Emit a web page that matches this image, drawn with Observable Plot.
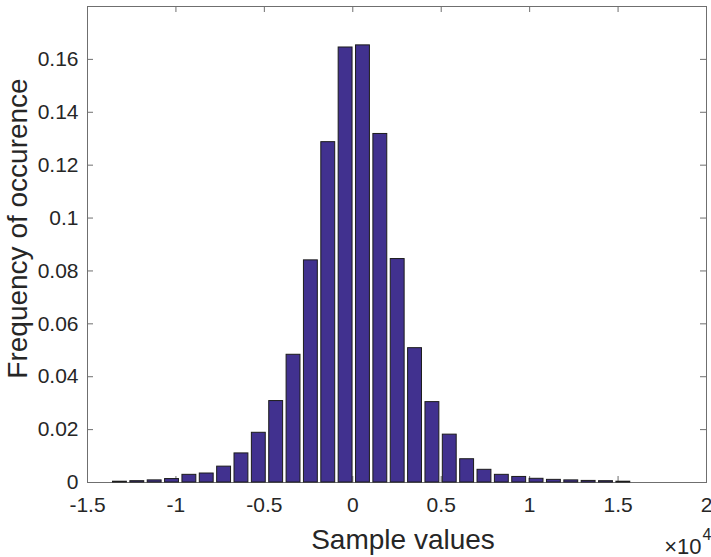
<!DOCTYPE html>
<html>
<head>
<meta charset="utf-8">
<script src="https://cdn.jsdelivr.net/npm/d3@7"></script>
<script src="https://cdn.jsdelivr.net/npm/@observablehq/plot@0.6"></script>
<style>
  html, body { margin: 0; padding: 0; background: #ffffff; }
  #chart { width: 711px; height: 557px; }
</style>
</head>
<body>
<div id="chart"></div>
<script>
// Histogram bin centres (sample values) and bar heights (frequency of occurence)
const binCenters = [
  -13165, -12184, -11202, -10221, -9239, -8258, -7276, -6295, -5313, -4332,
  -3350, -2369, -1387, -406, 576, 1557, 2539, 3520, 4502, 5483,
  6465, 7446, 8428, 9409, 10391, 11372, 12354, 13335, 14317, 15298
];
const frequencies = [
  0.0003, 0.0005, 0.0008, 0.0013, 0.0029, 0.0034, 0.0060, 0.0110, 0.0188, 0.0308,
  0.0483, 0.0840, 0.1287, 0.1645, 0.1653, 0.1318, 0.0845, 0.0508, 0.0304, 0.0181,
  0.0088, 0.0048, 0.0029, 0.0021, 0.0014, 0.0010, 0.0008, 0.0006, 0.0005, 0.0003
];
const binWidth = 981.5;
const xTicks = [-15000, -10000, -5000, 0, 5000, 10000, 15000, 20000];
const xTickLabels = ["-1.5", "-1", "-0.5", "0", "0.5", "1", "1.5", "2"];
const yTicks = [0, 0.02, 0.04, 0.06, 0.08, 0.10, 0.12, 0.14, 0.16];
const yTickLabels = ["0", "0.02", "0.04", "0.06", "0.08", "0.1", "0.12", "0.14", "0.16"];
const xDomain = [-15000, 20000];
const yDomain = [0, 0.18];

const bars = binCenters.map((c, i) => ({center: c, freq: frequencies[i]}));
const xLabelMap = new Map(xTicks.map((t, i) => [t, xTickLabels[i]]));
const yLabelMap = new Map(yTicks.map((t, i) => [t, yTickLabels[i]]));

const W = 711, H = 557;
const mL = 87, mR = 5, mT = 6, mB = 75;
const plotW = W - mL - mR, plotH = H - mT - mB;
const tickPx = 6;
const tickX = tickPx * (xDomain[1] - xDomain[0]) / plotW;
const tickY = tickPx * (yDomain[1] - yDomain[0]) / plotH;
const barFrac = 0.8;
const axisColor = "#6f6f6f";
const font = "'Liberation Sans', Arial, Helvetica, sans-serif";

const chart = Plot.plot({
  width: W,
  height: H,
  marginLeft: mL,
  marginRight: mR,
  marginTop: mT,
  marginBottom: mB,
  x: {domain: xDomain},
  y: {domain: yDomain},
  style: {fontFamily: font, fontSize: "21px", color: "#262626", background: "#ffffff", overflow: "visible"},
  marks: [
    Plot.frame({stroke: axisColor, strokeWidth: 1}),
    Plot.ruleX(xTicks, {x: d => d, y1: () => yDomain[0], y2: () => yDomain[0] + tickY, stroke: axisColor}),
    Plot.ruleX(xTicks, {x: d => d, y1: () => yDomain[1], y2: () => yDomain[1] - tickY, stroke: axisColor}),
    Plot.ruleY(yTicks, {y: d => d, x1: () => xDomain[0], x2: () => xDomain[0] + tickX, stroke: axisColor}),
    Plot.ruleY(yTicks, {y: d => d, x1: () => xDomain[1], x2: () => xDomain[1] - tickX, stroke: axisColor}),
    Plot.rect(bars, {
      x1: d => d.center - barFrac * binWidth / 2,
      x2: d => d.center + barFrac * binWidth / 2,
      y1: () => 0,
      y2: d => d.freq,
      fill: "#41318f",
      stroke: "#1c1c1c",
      strokeWidth: 1
    }),
    Plot.axisX(xTicks, {tickSize: 0, tickPadding: 15, tickFormat: d => xLabelMap.get(d), fontSize: 21, label: null}),
    Plot.axisY(yTicks, {tickSize: 0, tickPadding: 9, tickFormat: d => yLabelMap.get(d), fontSize: 21, label: null}),
    Plot.text(["Sample values"], {frameAnchor: "bottom", dx: 6, dy: 58, fontSize: 28, textAnchor: "middle", lineAnchor: "middle", fill: "#262626"}),
    Plot.text(["Frequency of occurence"], {frameAnchor: "left", dx: -69, dy: -16, rotate: -90, fontSize: 28, textAnchor: "middle", lineAnchor: "middle", fill: "#262626"}),
    Plot.text(["\u00d710"], {frameAnchor: "bottom-right", dx: -5, dy: 71, textAnchor: "end", lineAnchor: "bottom", fontSize: 22, fill: "#262626"}),
    Plot.text(["4"], {frameAnchor: "bottom-right", dx: -4, dy: 57, textAnchor: "start", lineAnchor: "bottom", fontSize: 16, fill: "#262626"})
  ]
});

document.getElementById("chart").appendChild(chart);
</script>
</body>
</html>
